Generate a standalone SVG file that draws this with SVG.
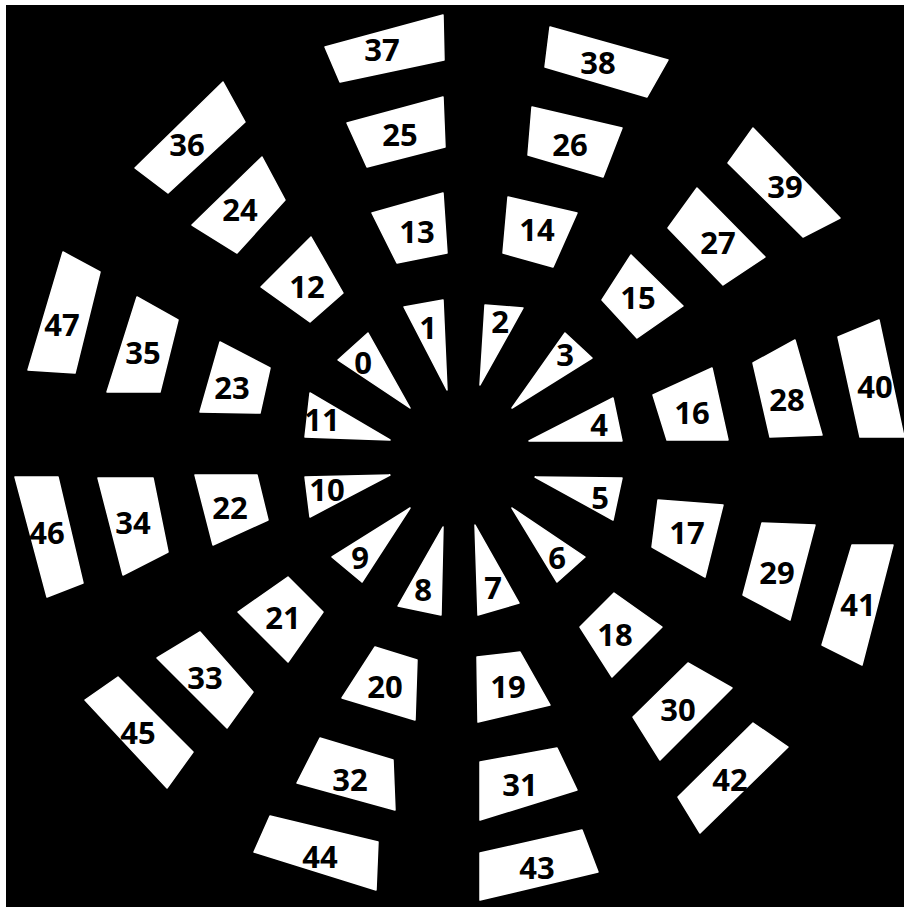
<svg xmlns="http://www.w3.org/2000/svg" width="904" height="907" viewBox="0 0 904 907">
<style>
.s{fill:#fff;stroke:#fff;stroke-width:1.5;stroke-linejoin:round}
.t{font-family:"Open Sans","Liberation Sans",sans-serif;font-weight:700;font-size:31px;fill:#000;text-anchor:middle}
</style>
<rect x="0" y="0" width="904" height="907" fill="#fff"/>
<rect x="6" y="5" width="898" height="902" fill="#000"/>
<g id="seg0"><polygon class="s" points="338,360 368,333 410,408"/><text class="t" x="363" y="374">0</text></g>
<g id="seg1"><polygon class="s" points="404,307 443,300 447,390"/><text class="t" x="428" y="339">1</text></g>
<g id="seg2"><polygon class="s" points="485,305 523,308 480,385"/><text class="t" x="500" y="333">2</text></g>
<g id="seg3"><polygon class="s" points="565,333 592,358 512,408"/><text class="t" x="565" y="366">3</text></g>
<g id="seg4"><polygon class="s" points="613,398 622,441 529,441"/><text class="t" x="599" y="436">4</text></g>
<g id="seg5"><polygon class="s" points="535,477 622,478 613,520"/><text class="t" x="600" y="509">5</text></g>
<g id="seg6"><polygon class="s" points="512,508 585,557 557,582"/><text class="t" x="557" y="569">6</text></g>
<g id="seg7"><polygon class="s" points="475,525 519,603 478,615"/><text class="t" x="493" y="599">7</text></g>
<g id="seg8"><polygon class="s" points="443,527 441,615 398,606"/><text class="t" x="423" y="601">8</text></g>
<g id="seg9"><polygon class="s" points="410,508 362,582 332,557"/><text class="t" x="360" y="569">9</text></g>
<g id="seg10"><polygon class="s" points="390,475 305,477 310,517"/><text class="t" x="327" y="501">10</text></g>
<g id="seg11"><polygon class="s" points="390,440 305,437 310,393"/><text class="t" x="322" y="431">11</text></g>
<g id="seg12"><polygon class="s" points="261,287 311,237 343,293 310,322"/><text class="t" x="307" y="298">12</text></g>
<g id="seg13"><polygon class="s" points="372,213 443,193 447,253 397,263"/><text class="t" x="417" y="243">13</text></g>
<g id="seg14"><polygon class="s" points="508,197 577,213 553,267 503,253"/><text class="t" x="537" y="241">14</text></g>
<g id="seg15"><polygon class="s" points="602,300 631,255 683,306 637,338"/><text class="t" x="638" y="309">15</text></g>
<g id="seg16"><polygon class="s" points="653,395 712,368 728,440 667,440"/><text class="t" x="692" y="424">16</text></g>
<g id="seg17"><polygon class="s" points="658,500 723,505 705,577 652,547"/><text class="t" x="687" y="544">17</text></g>
<g id="seg18"><polygon class="s" points="580,627 614,593 662,627 612,677"/><text class="t" x="615" y="646">18</text></g>
<g id="seg19"><polygon class="s" points="477,657 520,652 550,705 478,722"/><text class="t" x="508" y="698">19</text></g>
<g id="seg20"><polygon class="s" points="375,647 417,660 415,720 342,698"/><text class="t" x="385" y="698">20</text></g>
<g id="seg21"><polygon class="s" points="238,612 288,577 323,612 288,662"/><text class="t" x="283" y="629">21</text></g>
<g id="seg22"><polygon class="s" points="195,475 257,475 268,520 213,545"/><text class="t" x="230" y="519">22</text></g>
<g id="seg23"><polygon class="s" points="220,342 270,368 260,413 200,412"/><text class="t" x="232" y="399">23</text></g>
<g id="seg24"><polygon class="s" points="192,225 262,157 285,200 237,253"/><text class="t" x="240" y="221">24</text></g>
<g id="seg25"><polygon class="s" points="347,123 443,97 445,147 367,167"/><text class="t" x="400" y="146">25</text></g>
<g id="seg26"><polygon class="s" points="532,107 622,128 603,177 528,155"/><text class="t" x="570" y="156">26</text></g>
<g id="seg27"><polygon class="s" points="668,228 697,188 765,257 723,285"/><text class="t" x="718" y="254">27</text></g>
<g id="seg28"><polygon class="s" points="753,363 795,340 822,435 770,437"/><text class="t" x="787" y="411">28</text></g>
<g id="seg29"><polygon class="s" points="762,523 815,525 790,620 743,595"/><text class="t" x="777" y="584">29</text></g>
<g id="seg30"><polygon class="s" points="633,717 688,663 732,688 660,760"/><text class="t" x="678" y="721">30</text></g>
<g id="seg31"><polygon class="s" points="480,762 557,748 577,790 480,820"/><text class="t" x="520" y="796">31</text></g>
<g id="seg32"><polygon class="s" points="320,738 393,760 395,810 297,783"/><text class="t" x="350" y="791">32</text></g>
<g id="seg33"><polygon class="s" points="157,658 200,632 253,692 227,728"/><text class="t" x="205" y="689">33</text></g>
<g id="seg34"><polygon class="s" points="98,478 153,478 168,552 123,575"/><text class="t" x="133" y="534">34</text></g>
<g id="seg35"><polygon class="s" points="137,297 178,320 160,392 107,392"/><text class="t" x="143" y="364">35</text></g>
<g id="seg36"><polygon class="s" points="135,168 223,82 245,122 168,193"/><text class="t" x="187" y="156">36</text></g>
<g id="seg37"><polygon class="s" points="325,47 443,15 444,60 340,82"/><text class="t" x="382" y="61">37</text></g>
<g id="seg38"><polygon class="s" points="550,27 668,60 647,97 545,67"/><text class="t" x="598" y="74">38</text></g>
<g id="seg39"><polygon class="s" points="728,163 753,128 840,218 803,237"/><text class="t" x="785" y="198">39</text></g>
<g id="seg40"><polygon class="s" points="838,337 879,320 904,437 860,437"/><text class="t" x="875" y="398">40</text></g>
<g id="seg41"><polygon class="s" points="852,545 893,545 862,665 822,645"/><text class="t" x="858" y="616">41</text></g>
<g id="seg42"><polygon class="s" points="678,797 753,723 788,747 700,833"/><text class="t" x="730" y="791">42</text></g>
<g id="seg43"><polygon class="s" points="480,853 582,830 598,872 480,900"/><text class="t" x="537" y="879">43</text></g>
<g id="seg44"><polygon class="s" points="270,816 378,842 376,890 254,852"/><text class="t" x="320" y="868">44</text></g>
<g id="seg45"><polygon class="s" points="85,700 118,677 193,752 167,788"/><text class="t" x="138" y="744">45</text></g>
<g id="seg46"><polygon class="s" points="15,477 58,477 83,583 47,597"/><text class="t" x="47" y="544">46</text></g>
<g id="seg47"><polygon class="s" points="63,252 100,272 75,373 28,370"/><text class="t" x="62" y="336">47</text></g>
</svg>
